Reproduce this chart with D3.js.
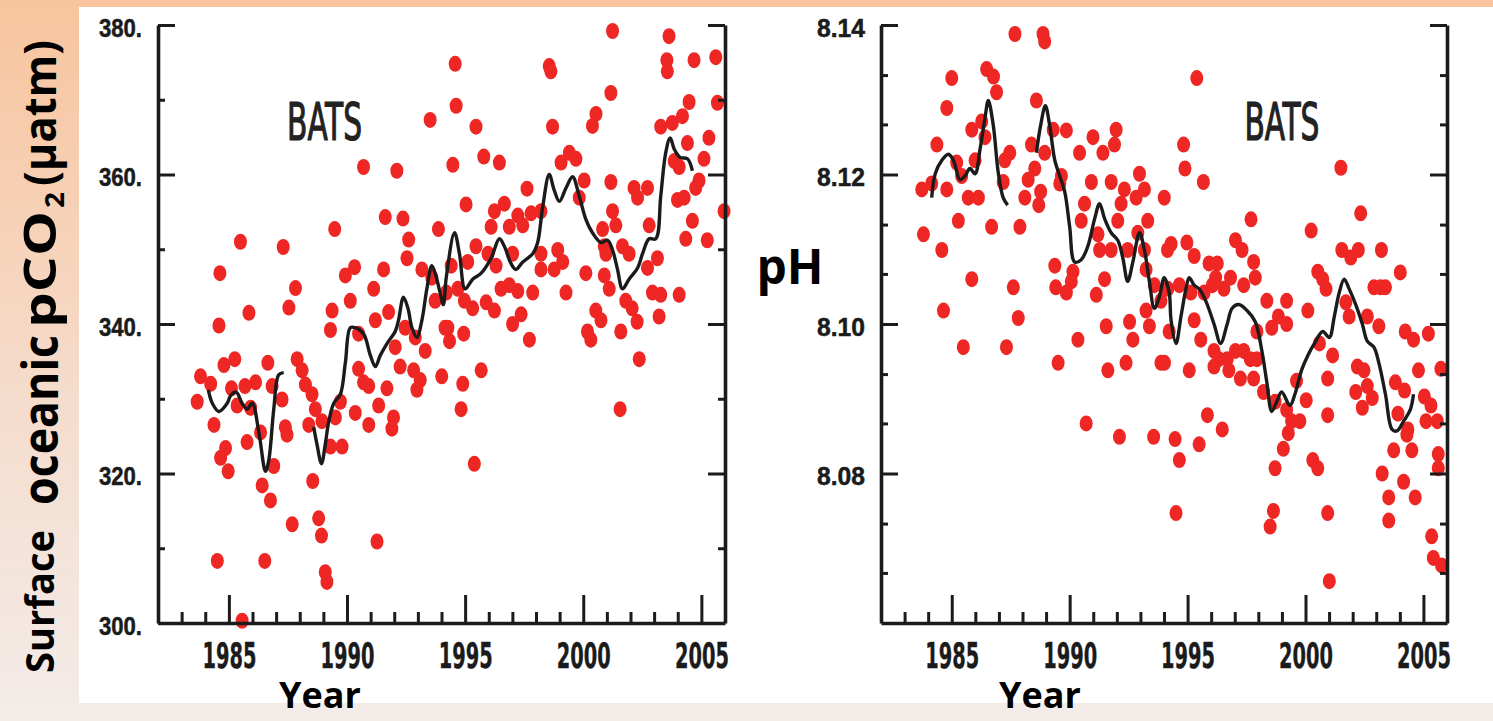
<!DOCTYPE html>
<html>
<head>
<meta charset="utf-8">
<script src="https://cdn.jsdelivr.net/npm/d3@7"></script>
<style>
  html, body { margin: 0; padding: 0; background: #f5e6dc; }
  body { width: 1493px; height: 721px; overflow: hidden; }
</style>
</head>
<body>
<svg id="chart" width="1493" height="721"></svg>
<script>
const yearTicks = [1985, 1990, 1995, 2000, 2005];
const yearMinorTicks = [1983, 1984, 1986, 1987, 1988, 1989, 1991, 1992, 1993, 1994,
  1996, 1997, 1998, 1999, 2001, 2002, 2003, 2004];

const pco2Ticks = [300, 320, 340, 360, 380];
const pco2TickLabels = ['300.', '320.', '340.', '360.', '380.'];
const pco2MinorTicks = [310, 330, 350, 370];

const phTicks = [8.08, 8.10, 8.12, 8.14];
const phTickLabels = ['8.08', '8.10', '8.12', '8.14'];
const phMinorTicks = [8.0667, 8.0733, 8.0867, 8.0933, 8.1067, 8.1133, 8.1267, 8.1333];

// [year, pCO2 uatm]
const pco2Points = [
  [1993.52,367.3],[1990.70,361.0],[1992.11,360.5],[1989.48,352.7],[1991.62,354.3],[1992.37,354.1],
  [1992.61,351.3],[1992.54,348.8],[1993.87,352.7],[1985.49,351.0],[1987.30,350.3],[1984.62,346.8],
  [1987.82,344.8],[1987.54,342.2],[1985.85,341.5],[1984.58,339.8],[1989.93,346.5],[1990.32,347.6],
  [1990.14,343.1],[1989.37,341.8],[1989.30,339.2],[1990.49,338.7],[1991.13,344.7],[1991.55,347.3],
  [1991.76,341.6],[1991.20,340.5],[1992.04,336.9],[1992.46,339.5],[1992.89,338.2],[1993.31,336.4],
  [1993.17,347.3],[1993.59,346.2],[1993.73,343.1],[1994.15,339.5],[1994.01,333.0],[1992.25,334.3],
  [1992.82,333.8],[1993.10,332.5],[1992.96,331.2],[1991.69,331.4],[1990.49,334.0],[1990.70,332.2],
  [1990.92,331.7],[1991.34,329.1],[1991.97,327.5],[1991.90,326.0],[1990.92,326.5],[1990.35,328.1],
  [1989.72,329.6],[1989.51,327.5],[1989.79,323.6],[1989.30,323.6],[1988.52,330.6],[1988.66,328.6],
  [1988.94,327.0],[1988.38,326.5],[1987.89,335.3],[1988.10,333.8],[1988.24,331.9],[1987.39,326.2],
  [1987.46,325.2],[1987.25,329.9],[1986.83,331.7],[1986.65,334.8],[1986.90,321.0],[1986.41,318.4],
  [1986.76,316.4],[1986.34,325.5],[1985.77,324.2],[1986.13,332.2],[1985.68,331.7],[1985.25,335.3],
  [1984.79,334.5],[1985.11,331.4],[1985.35,329.1],[1985.92,328.8],[1983.80,333.0],[1984.23,332.0],
  [1983.66,329.6],[1984.37,326.5],[1984.86,323.4],[1984.65,322.1],[1984.97,320.3],[1987.68,313.2],
  [1988.55,319.0],[1988.80,314.0],[1988.92,311.7],[1989.08,306.8],[1989.15,305.5],[1991.27,310.9],
  [1984.51,308.3],[1986.52,308.3],[1985.56,300.3],
  [2001.24,379.2],[2003.63,378.5],[2003.54,375.3],[2003.56,373.8],[2004.69,375.3],[2005.61,375.7],
  [1994.58,374.8],[1998.56,374.5],[1998.63,373.8],[2001.17,370.9],[1994.62,369.2],[1995.46,366.4],
  [1998.70,366.4],[2000.54,368.1],[2000.39,366.5],[2004.48,369.7],[2005.68,369.6],[2003.28,366.4],
  [2003.77,366.9],[2004.20,367.8],[2004.41,364.2],[2005.32,364.9],[1994.48,361.3],[1995.79,362.4],
  [1996.45,361.6],[1999.06,361.6],[1999.41,362.9],[1999.69,362.1],[2003.85,361.8],[2004.06,361.0],
  [2005.11,362.1],[2004.90,359.2],[2004.76,358.2],[2005.96,355.1],[1995.04,356.0],[1997.62,358.1],
  [2000.04,359.2],[2001.17,359.0],[1999.83,356.9],[2002.30,356.9],[2002.72,358.2],[2002.15,358.2],
  [2003.99,356.6],[2004.27,356.9],[2004.62,353.8],[2004.34,351.4],[2005.25,351.2],[1996.24,355.1],
  [1996.66,356.1],[1997.23,354.5],[1997.79,354.8],[1998.21,355.1],[1996.10,353.0],[1996.87,353.0],
  [1997.44,353.2],[2001.24,355.1],[2001.38,353.2],[2000.82,352.7],[2002.79,353.2],[1995.46,350.4],
  [1995.11,348.3],[1994.41,347.8],[1995.97,349.4],[1996.31,347.8],[1997.01,349.4],[1998.21,349.4],
  [1998.21,347.3],[1998.77,347.3],[1998.92,349.9],[1999.13,348.3],[2000.89,350.4],[2000.96,349.4],
  [2001.66,350.4],[2001.94,349.4],[2002.72,347.5],[2003.14,348.8],[1996.52,344.7],[1996.87,345.2],
  [1997.23,344.4],[1997.86,344.2],[1999.27,344.2],[2000.11,346.8],[2000.89,346.5],[2001.10,344.7],
  [2002.93,344.2],[2003.28,343.9],[2004.06,343.9],[1994.69,344.7],[1994.97,343.1],[1995.32,342.1],
  [1995.89,342.9],[1996.24,341.8],[1994.20,344.2],[2001.80,343.1],[2002.07,342.1],[2003.21,341.0],
  [2000.53,341.8],[2000.75,340.5],[2002.28,340.3],[1997.37,341.3],[1997.01,340.0],[1994.27,339.5],
  [1994.34,337.7],[1994.94,338.7],[1997.72,337.9],[2000.18,339.0],[2000.32,337.9],[2001.59,339.0],
  [2002.37,335.3],[1995.68,333.8],[1994.90,332.0],[1994.83,328.6],[2001.56,328.6],[1995.39,321.3]
];

// smoothed curve, null marks the gap in the record
const pco2Smooth = [
  [1984.13,331.2],[1984.30,329.4],[1984.58,328.3],[1984.93,329.4],[1985.07,330.4],[1985.31,330.9],
  [1985.56,329.4],[1985.77,328.6],[1985.99,329.4],[1986.27,325.5],[1986.55,320.3],[1986.69,321.8],
  [1986.90,328.6],[1987.11,333.2],[1987.32,333.5],[1988.0,null],
  [1988.59,326.2],[1988.73,323.9],[1988.92,321.3],[1989.08,323.9],[1989.23,327.0],[1989.44,329.4],
  [1989.72,330.6],[1989.93,334.8],[1990.14,339.5],[1990.35,339.5],[1990.70,338.7],[1990.99,335.8],
  [1991.20,334.3],[1991.41,335.8],[1991.76,337.7],[1992.04,339.0],[1992.18,340.5],[1992.39,343.6],
  [1992.58,342.1],[1992.75,339.5],[1992.96,338.2],[1993.17,340.5],[1993.38,344.7],[1993.59,347.8],
  [1993.73,346.8],[1993.94,344.2],[1994.08,342.6],[1994.20,346.2],[1994.55,352.2],[1994.76,349.4],
  [1995.00,344.7],[1995.32,346.0],[1995.68,346.8],[1996.10,348.8],[1996.45,351.4],[1996.66,350.4],
  [1996.94,348.1],[1997.15,347.3],[1997.44,348.3],[1997.86,349.4],[1998.07,350.9],[1998.28,355.6],
  [1998.56,360.0],[1998.77,357.9],[1998.99,356.4],[1999.27,358.2],[1999.55,359.7],[1999.83,357.1],
  [2000.11,354.0],[2000.39,352.2],[2000.75,350.9],[2001.03,351.2],[2001.24,349.9],[2001.45,347.3],
  [2001.66,344.7],[2001.94,346.0],[2002.30,347.5],[2002.51,349.4],[2002.79,351.4],[2003.07,351.4],
  [2003.28,357.1],[2003.49,362.9],[2003.68,364.9],[2003.85,363.4],[2004.10,362.3],[2004.41,362.1],
  [2004.62,360.5]
];

// [year, pH]
const phPoints = [
  [1987.68,8.1388],[1988.87,8.1388],[1988.94,8.1378],[1985.00,8.1329],[1986.48,8.1341],[1986.77,8.1331],
  [1986.90,8.1310],[1984.79,8.1289],[1988.59,8.1299],[1984.37,8.1240],[1985.85,8.1260],[1986.27,8.1271],
  [1986.41,8.1250],[1989.30,8.1260],[1989.86,8.1259],[1988.38,8.1240],[1988.94,8.1229],[1990.99,8.1250],
  [1990.42,8.1229],[1991.41,8.1229],[1991.97,8.1260],[1991.90,8.1240],[1985.21,8.1216],[1985.99,8.1219],
  [1987.46,8.1229],[1987.25,8.1219],[1988.52,8.1208],[1983.73,8.1180],[1984.15,8.1188],[1984.79,8.1180],
  [1985.42,8.1198],[1985.70,8.1169],[1986.13,8.1169],[1987.18,8.1190],[1988.24,8.1193],[1988.10,8.1169],
  [1988.77,8.1177],[1988.69,8.1159],[1989.65,8.1198],[1989.58,8.1188],[1990.92,8.1190],[1991.76,8.1190],
  [1992.32,8.1180],[1992.96,8.1201],[1993.17,8.1180],[1992.82,8.1169],[1994.01,8.1169],[1990.63,8.1161],
  [1990.49,8.1138],[1992.18,8.1161],[1992.04,8.1138],[1983.80,8.1120],[1984.58,8.1099],[1985.28,8.1138],
  [1986.69,8.1130],[1987.89,8.1130],[1993.31,8.1138],[1991.20,8.1120],[1991.27,8.1099],[1991.76,8.1099],
  [1992.46,8.1099],[1992.89,8.1122],[1993.17,8.1099],[1994.15,8.1099],[1989.37,8.1078],[1990.14,8.1070],
  [1990.07,8.1057],[1989.86,8.1042],[1989.41,8.1049],[1985.85,8.1060],[1987.61,8.1049],[1991.48,8.1060],
  [1991.13,8.1039],[1993.24,8.1073],[1993.59,8.1052],[1993.87,8.1031],[1984.65,8.1018],[1987.82,8.1008],
  [1993.24,8.1018],[1993.38,8.0997],[1991.55,8.0997],[1992.54,8.1003],[1992.68,8.0979],[1994.22,8.0990],
  [1990.35,8.0979],[1985.49,8.0969],[1987.32,8.0969],[1989.51,8.0948],[1991.62,8.0938],[1992.39,8.0948],
  [1993.87,8.0948],[1990.70,8.0867],[1992.11,8.0849],[1993.56,8.0849],
  [1995.39,8.1329],[1994.83,8.1240],[1994.89,8.1208],[1995.67,8.1190],[2001.50,8.1209],[2002.34,8.1148],
  [1997.69,8.1140],[2000.24,8.1125],[1994.30,8.1107],[1994.97,8.1109],[1995.28,8.1091],[1997.03,8.1112],
  [1997.31,8.1099],[2001.54,8.1099],[2001.92,8.1089],[2002.24,8.1099],[2003.22,8.1099],[2004.02,8.1069],
  [1995.91,8.1081],[1996.26,8.1081],[1996.19,8.1062],[1996.82,8.1062],[1997.87,8.1062],[2000.52,8.1070],
  [2000.73,8.1060],[2000.87,8.1047],[2002.90,8.1049],[2003.18,8.1049],[2003.39,8.1049],[1994.16,8.1047],
  [1994.65,8.1052],[1995.14,8.1042],[1995.70,8.1042],[1996.05,8.1052],[1996.54,8.1047],[1997.38,8.1052],
  [1998.36,8.1031],[1999.20,8.1031],[2000.10,8.1018],[2001.71,8.1029],[2001.85,8.1010],[2002.62,8.1010],
  [2003.11,8.0997],[1995.28,8.1005],[1995.56,8.0979],[1996.12,8.0964],[1996.33,8.0953],[1996.68,8.0953],
  [1997.03,8.0964],[1997.38,8.0964],[1997.66,8.0953],[1997.94,8.0953],[1998.57,8.0995],[1998.85,8.1010],
  [1999.20,8.1000],[1997.94,8.0990],[1994.02,8.0948],[1995.07,8.0938],[1996.12,8.0943],[1996.75,8.0938],
  [1997.24,8.0927],[1997.80,8.0927],[2000.94,8.0927],[2000.59,8.0974],[2001.15,8.0958],[2002.20,8.0943],
  [2002.48,8.0938],[2004.23,8.0990],[2004.58,8.0979],[2005.21,8.0987],[2004.79,8.0938],[2005.74,8.0940],
  [2002.13,8.0909],[2002.62,8.0917],[2002.83,8.0901],[2002.41,8.0888],[2003.81,8.0922],[2004.20,8.0911],
  [2005.04,8.0903],[2005.32,8.0891],[2005.11,8.0870],[2005.59,8.0870],[2003.92,8.0880],[2004.34,8.0859],
  [1998.22,8.0909],[1998.71,8.0896],[1999.20,8.0885],[1999.41,8.0870],[1999.76,8.0870],[2000.03,8.0898],
  [1999.62,8.0924],[1999.27,8.0854],[1999.06,8.0833],[1998.71,8.0807],[2000.31,8.0818],[2000.52,8.0807],
  [2000.94,8.0878],[2000.94,8.0747],[2001.01,8.0656],[1994.47,8.0846],[1994.65,8.0818],[1994.51,8.0747],
  [1995.49,8.0839],[1995.84,8.0878],[1996.47,8.0859],[1998.64,8.0750],[1998.50,8.0729],[2003.25,8.0800],
  [2003.53,8.0768],[2003.53,8.0737],[2003.74,8.0831],[2004.16,8.0789],[2004.65,8.0768],[2004.51,8.0831],
  [2004.30,8.0852],[2005.63,8.0826],[2005.63,8.0807],[2005.35,8.0716],[2005.42,8.0687],[2005.77,8.0677],
  [1997.80,8.1083]
];

const phSmooth = [
  [1984.15,8.1169],[1984.30,8.1201],[1984.58,8.1219],[1984.86,8.1227],[1985.07,8.1219],[1985.35,8.1193],
  [1985.56,8.1198],[1985.77,8.1208],[1985.99,8.1201],[1986.20,8.1234],[1986.41,8.1276],[1986.55,8.1299],
  [1986.76,8.1266],[1986.97,8.1203],[1987.18,8.1169],[1987.37,8.1159],[1988.0,null],
  [1988.59,8.1229],[1988.77,8.1266],[1988.97,8.1292],[1989.15,8.1266],[1989.37,8.1219],[1989.58,8.1198],
  [1989.79,8.1177],[1990.00,8.1130],[1990.21,8.1083],[1990.49,8.1086],[1990.77,8.1104],[1991.06,8.1141],
  [1991.27,8.1161],[1991.48,8.1141],[1991.76,8.1122],[1992.04,8.1112],[1992.25,8.1089],[1992.46,8.1057],
  [1992.68,8.1083],[1992.96,8.1122],[1993.17,8.1099],[1993.38,8.1057],[1993.59,8.1021],[1993.80,8.1036],
  [1994.01,8.1062],[1994.22,8.1042],[1994.30,8.1005],[1994.51,8.0974],[1994.72,8.1010],[1994.93,8.1047],
  [1995.07,8.1062],[1995.28,8.1052],[1995.49,8.1047],[1995.77,8.1031],[1996.12,8.1000],[1996.40,8.0974],
  [1996.68,8.1000],[1996.89,8.1021],[1997.17,8.1026],[1997.52,8.1018],[1997.87,8.1003],[1998.15,8.0964],
  [1998.36,8.0922],[1998.57,8.0883],[1998.78,8.0896],[1998.99,8.0909],[1999.34,8.0891],[1999.55,8.0906],
  [1999.83,8.0938],[2000.10,8.0958],[2000.38,8.0974],[2000.73,8.0990],[2001.01,8.0982],[2001.22,8.1010],
  [2001.43,8.1042],[2001.64,8.1060],[2001.85,8.1047],[2002.13,8.1026],[2002.41,8.1000],[2002.62,8.0977],
  [2002.90,8.0969],[2003.11,8.0948],[2003.39,8.0906],[2003.67,8.0859],[2003.88,8.0857],[2004.16,8.0870],
  [2004.44,8.0885],[2004.58,8.0906]
];

const ink = '#1b1b1b';
const dotColor = '#ee2624';

const svg = d3.select('#chart');

const defs = svg.append('defs');
const grad = defs.append('linearGradient')
  .attr('id', 'bg')
  .attr('x1', 0).attr('y1', 0).attr('x2', 0).attr('y2', 1);
grad.append('stop').attr('offset', '0%').attr('stop-color', '#f8c49d');
grad.append('stop').attr('offset', '55%').attr('stop-color', '#f5dccc');
grad.append('stop').attr('offset', '100%').attr('stop-color', '#f3ece9');

svg.append('rect').attr('width', 1493).attr('height', 721).attr('fill', 'url(#bg)');
svg.append('rect')
  .attr('x', 79).attr('y', 7)
  .attr('width', 1414).attr('height', 696)
  .attr('fill', '#ffffff');

function styleAxis(g, width) {
  g.selectAll('path').attr('stroke', ink).attr('stroke-width', width);
  g.selectAll('line').attr('stroke', ink).attr('stroke-width', 3);
}

function drawPanel({ xScale, yScale, points, smooth, yTicks, yLabels, yMinor, labelWidth, batsYear }) {
  const [x0, x1] = xScale.range();
  const [yBottom] = yScale.range();
  const panel = svg.append('g');

  panel.append('g')
    .selectAll('ellipse')
    .data(points)
    .join('ellipse')
    .attr('cx', (d) => xScale(d[0]))
    .attr('cy', (d) => yScale(d[1]))
    .attr('rx', 6.5)
    .attr('ry', 8)
    .attr('fill', dotColor);

  const line = d3.line()
    .defined((d) => d[1] !== null)
    .x((d) => xScale(d[0]))
    .y((d) => yScale(d[1]))
    .curve(d3.curveCatmullRom.alpha(0.5));

  panel.append('path')
    .datum(smooth)
    .attr('d', line)
    .attr('fill', 'none')
    .attr('stroke', ink)
    .attr('stroke-width', 3.4)
    .attr('stroke-linejoin', 'round');

  // left axis, ticks point inward
  const left = panel.append('g')
    .attr('transform', `translate(${x0},0)`)
    .call(d3.axisLeft(yScale)
      .tickValues(yTicks)
      .tickFormat((d, i) => yLabels[i])
      .tickSize(-17)
      .tickSizeOuter(0)
      .tickPadding(16));
  styleAxis(left, 3.6);
  left.selectAll('text')
    .attr('font-family', '"Liberation Sans", Arial, sans-serif')
    .attr('font-weight', 'bold')
    .attr('font-size', 25)
    .attr('fill', ink)
    .attr('stroke', ink)
    .attr('stroke-width', 0.5)
    .attr('dy', '0.45em')
    .attr('textLength', labelWidth)
    .attr('lengthAdjust', 'spacingAndGlyphs');

  const leftMinor = panel.append('g')
    .attr('transform', `translate(${x0},0)`)
    .call(d3.axisLeft(yScale).tickValues(yMinor).tickFormat('').tickSize(-7).tickSizeOuter(0));
  leftMinor.select('.domain').remove();
  styleAxis(leftMinor, 3);

  const right = panel.append('g')
    .attr('transform', `translate(${x1},0)`)
    .call(d3.axisRight(yScale).tickValues(yTicks).tickFormat('').tickSize(-17).tickSizeOuter(0));
  styleAxis(right, 3.6);

  const rightMinor = panel.append('g')
    .attr('transform', `translate(${x1},0)`)
    .call(d3.axisRight(yScale).tickValues(yMinor).tickFormat('').tickSize(-7).tickSizeOuter(0));
  rightMinor.select('.domain').remove();
  styleAxis(rightMinor, 3);

  const bottom = panel.append('g')
    .attr('transform', `translate(0,${yBottom})`)
    .call(d3.axisBottom(xScale)
      .tickValues(yearTicks)
      .tickFormat(d3.format('d'))
      .tickSize(-28)
      .tickSizeOuter(0)
      .tickPadding(19));
  styleAxis(bottom, 3.6);
  bottom.selectAll('text')
    .attr('font-family', '"Liberation Sans Narrow", "DejaVu Sans Condensed", sans-serif')
    .attr('font-weight', 'bold')
    .attr('font-size', 36)
    .attr('fill', ink)
    .attr('stroke', ink)
    .attr('stroke-width', 0.4)
    .attr('textLength', 54)
    .attr('lengthAdjust', 'spacingAndGlyphs');

  const bottomMinor = panel.append('g')
    .attr('transform', `translate(0,${yBottom})`)
    .call(d3.axisBottom(xScale).tickValues(yearMinorTicks).tickFormat('').tickSize(-11).tickSizeOuter(0));
  bottomMinor.select('.domain').remove();
  styleAxis(bottomMinor, 3);

  panel.append('text')
    .attr('x', xScale(batsYear))
    .attr('y', 140)
    .attr('text-anchor', 'middle')
    .attr('font-family', '"Liberation Sans Narrow", "DejaVu Sans Condensed", sans-serif')
    .attr('font-size', 52)
    .attr('fill', '#222')
    .attr('stroke', '#222')
    .attr('stroke-width', 1.2)
    .attr('textLength', 75)
    .attr('lengthAdjust', 'spacingAndGlyphs')
    .text('BATS');
}

drawPanel({
  xScale: d3.scaleLinear().domain([1982, 2006]).range([158, 725]),
  yScale: d3.scaleLinear().domain([300, 380]).range([623, 25]),
  points: pco2Points,
  smooth: pco2Smooth,
  yTicks: pco2Ticks,
  yLabels: pco2TickLabels,
  yMinor: pco2MinorTicks,
  labelWidth: 43,
  batsYear: 1989.05,
});

drawPanel({
  xScale: d3.scaleLinear().domain([1982, 2006]).range([881, 1447]),
  yScale: d3.scaleLinear().domain([8.06, 8.14]).range([623, 25]),
  points: phPoints,
  smooth: phSmooth,
  yTicks: phTicks,
  yLabels: phTickLabels,
  yMinor: phMinorTicks,
  labelWidth: 48,
  batsYear: 1999.0,
});

// outer slide labels
const labelFont = '"Open Sans", "Noto Sans", sans-serif';

function vText({ y, x, size, length, text }) {
  svg.append('text')
    .attr('transform', `translate(${x},${y}) rotate(-90)`)
    .attr('font-family', labelFont)
    .attr('font-weight', 'bold')
    .attr('font-size', size)
    .attr('fill', '#000')
    .attr('textLength', length)
    .attr('lengthAdjust', 'spacingAndGlyphs')
    .text(text);
}

vText({ y: 673, x: 54, size: 40, length: 143, text: 'Surface' });
vText({ y: 505, x: 58, size: 50, length: 170, text: 'oceanic' });
vText({ y: 328, x: 56, size: 44, length: 117, text: 'pCO' });
vText({ y: 208, x: 64, size: 26, length: 16, text: '2' });
vText({ y: 186, x: 56, size: 44, length: 146, text: '(µatm)' });

svg.append('text')
  .attr('x', 790)
  .attr('y', 284)
  .attr('text-anchor', 'middle')
  .attr('font-family', labelFont)
  .attr('font-weight', 'bold')
  .attr('font-size', 48)
  .attr('fill', '#000')
  .text('pH');

[320, 1040].forEach((cx) => {
  svg.append('text')
    .attr('x', cx)
    .attr('y', 708)
    .attr('text-anchor', 'middle')
    .attr('font-family', labelFont)
    .attr('font-weight', 'bold')
    .attr('font-size', 36)
    .attr('fill', '#000')
    .text('Year');
});
</script>
</body>
</html>
